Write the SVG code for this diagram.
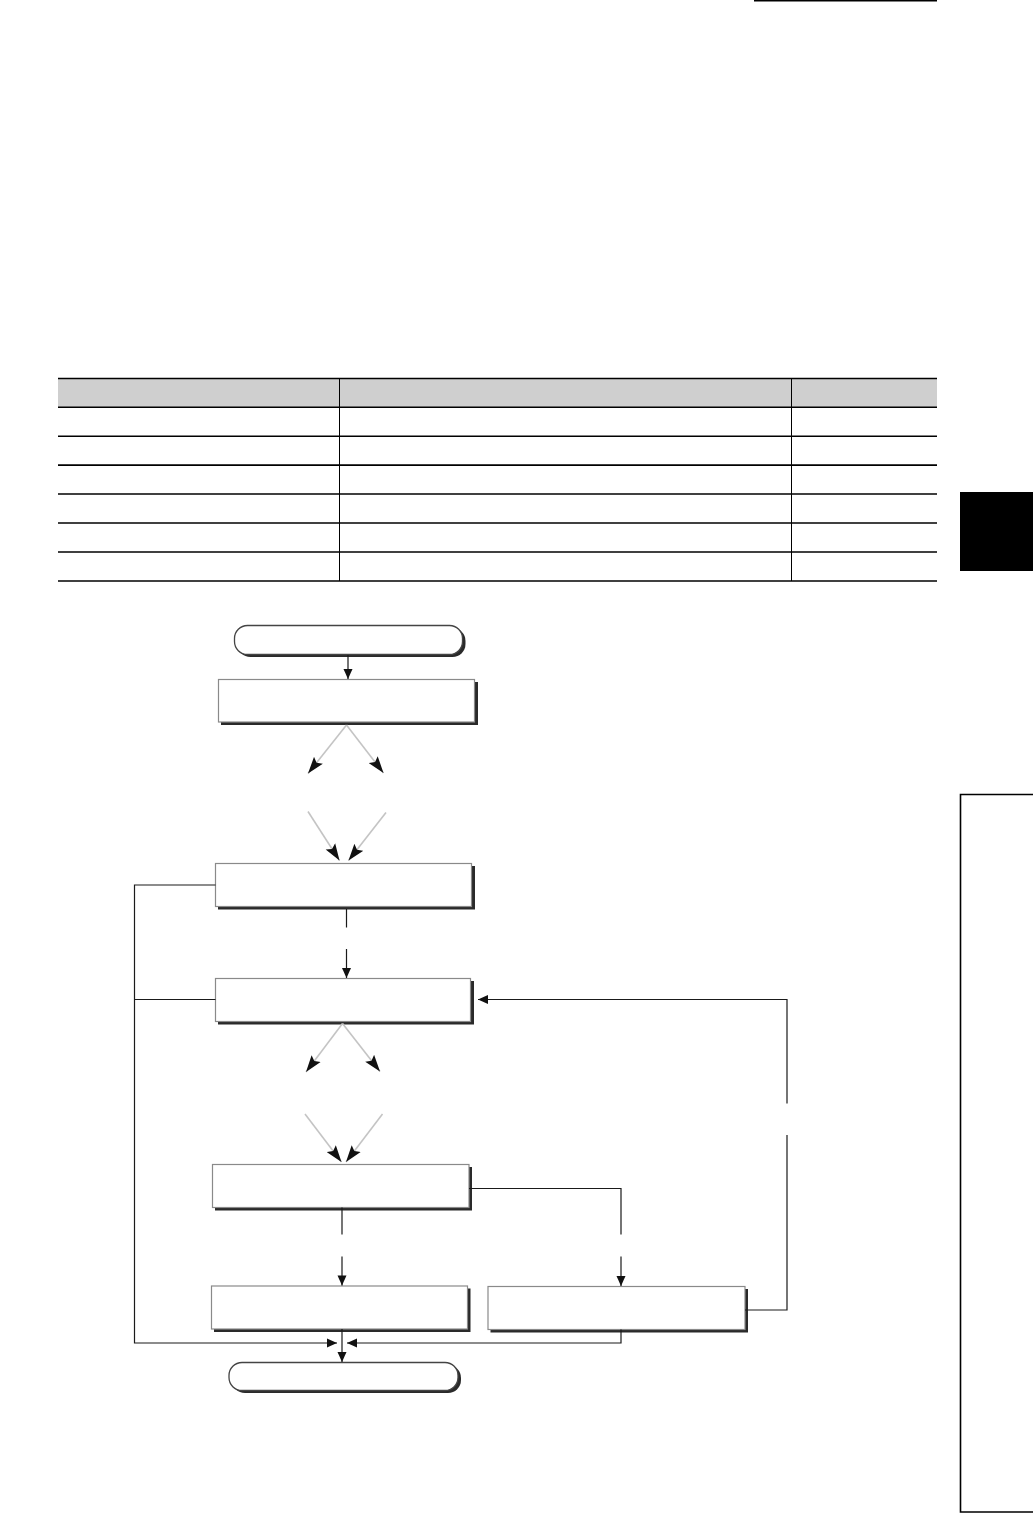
<svg xmlns="http://www.w3.org/2000/svg" width="1033" height="1515" viewBox="0 0 1033 1515">
<defs>
<style>
.rule{stroke:#000;stroke-width:1.6;fill:none}
.thin{stroke:#000;stroke-width:1;fill:none}
.box{fill:#fff;stroke:#8a8a8a;stroke-width:1.2}
.shadow{fill:#2a2a2a}
.term{fill:#fff;stroke:#444;stroke-width:1.3}
.ln{stroke:#1a1a1a;stroke-width:1.2;fill:none}
.gl{stroke:#c4c4c4;stroke-width:1.6;fill:none}
</style>
<marker id="ah" viewBox="0 0 10 10" refX="10" refY="5" markerWidth="11" markerHeight="10" markerUnits="userSpaceOnUse" orient="auto">
<path d="M0,0.5 L10,5 L0,9.5 Z" fill="#111"/>
</marker>
<marker id="ahb" viewBox="0 0 14 10" refX="14" refY="5" markerWidth="17" markerHeight="12" markerUnits="userSpaceOnUse" orient="auto">
<path d="M0,0.3 L14,5 L0,9.7 L2.5,5 Z" fill="#111"/>
</marker>
</defs>
<rect width="1033" height="1515" fill="#fff"/>

<g id="page">
<line x1="754" y1="0.8" x2="937" y2="0.8" class="rule"/>
<rect x="960" y="492" width="73" height="79" fill="#000"/>
<path d="M1033,794.5 H960.5 V1512 H1033" class="rule"/>
</g>

<g id="table">
<rect x="58" y="378" width="879" height="29" fill="#cfcfcf"/>
<g class="rule">
<line x1="58" y1="378.5" x2="937" y2="378.5"/>
<line x1="58" y1="407.3" x2="937" y2="407.3"/>
<line x1="58" y1="436.2" x2="937" y2="436.2"/>
<line x1="58" y1="465.1" x2="937" y2="465.1"/>
<line x1="58" y1="494" x2="937" y2="494"/>
<line x1="58" y1="523" x2="937" y2="523"/>
<line x1="58" y1="552" x2="937" y2="552"/>
<line x1="58" y1="581" x2="937" y2="581"/>
</g>
<g class="thin">
<line x1="339.5" y1="378" x2="339.5" y2="581"/>
<line x1="791.5" y1="378" x2="791.5" y2="581"/>
</g>
</g>

<g id="start">
<rect x="237.5" y="628" width="228" height="29" rx="13" class="shadow"/>
<rect x="234.5" y="625.5" width="228" height="29" rx="13" class="term"/>
</g>
<g id="box1">
<rect x="221" y="682" width="257" height="43" class="shadow"/>
<rect x="218.5" y="679.5" width="256" height="42.5" class="box"/>
</g>
<g id="box2">
<rect x="218" y="866" width="257" height="43.5" class="shadow"/>
<rect x="215.5" y="863.5" width="256" height="43" class="box"/>
</g>
<g id="box3">
<rect x="218" y="981" width="256" height="43.5" class="shadow"/>
<rect x="215.5" y="978.5" width="255" height="43" class="box"/>
</g>
<g id="box4">
<rect x="215" y="1167" width="257" height="43.5" class="shadow"/>
<rect x="212.5" y="1164.5" width="256.5" height="43" class="box"/>
</g>
<g id="box5">
<rect x="214" y="1288.5" width="256.5" height="43.5" class="shadow"/>
<rect x="211.5" y="1286" width="256" height="43" class="box"/>
</g>
<g id="box6">
<rect x="490.5" y="1289" width="257.5" height="43.5" class="shadow"/>
<rect x="488" y="1286.5" width="257" height="43" class="box"/>
</g>
<g id="end">
<rect x="232" y="1365" width="229" height="28" rx="13" class="shadow"/>
<rect x="229" y="1362.5" width="229" height="28" rx="13" class="term"/>
</g>

<g id="connectors">
<line x1="348" y1="655" x2="348" y2="679" class="ln" marker-end="url(#ah)"/>
<line x1="346.5" y1="725" x2="308" y2="773.5" class="gl" marker-end="url(#ahb)"/>
<line x1="346.5" y1="725" x2="383.5" y2="773" class="gl" marker-end="url(#ahb)"/>
<line x1="308" y1="811.5" x2="339.5" y2="860.5" class="gl" marker-end="url(#ahb)"/>
<line x1="386" y1="812.5" x2="348.5" y2="860.5" class="gl" marker-end="url(#ahb)"/>

<polyline points="215.5,885 134.5,885 134.5,1343 337,1343" class="ln" marker-end="url(#ah)"/>
<line x1="134.5" y1="999.5" x2="215.5" y2="999.5" class="ln"/>

<line x1="346.5" y1="909" x2="346.5" y2="927.5" class="ln"/>
<line x1="346.5" y1="949" x2="346.5" y2="978" class="ln" stroke-width="1.8" marker-end="url(#ah)"/>

<polyline points="745,1310 787,1310 787,1135" class="ln"/>
<polyline points="787,1103.5 787,999.5 478,999.5" class="ln" marker-end="url(#ah)"/>

<line x1="342.5" y1="1023.5" x2="306" y2="1072" class="gl" marker-end="url(#ahb)"/>
<line x1="342.5" y1="1023.5" x2="380" y2="1071.5" class="gl" marker-end="url(#ahb)"/>
<line x1="305" y1="1114" x2="341.5" y2="1162" class="gl" marker-end="url(#ahb)"/>
<line x1="382.5" y1="1114" x2="346" y2="1162" class="gl" marker-end="url(#ahb)"/>

<polyline points="469,1188.5 621,1188.5 621,1234.5" class="ln"/>
<line x1="621" y1="1256.5" x2="621" y2="1286" class="ln" stroke-width="1.6" marker-end="url(#ah)"/>
<line x1="342" y1="1207.5" x2="342" y2="1234.5" class="ln"/>
<line x1="342" y1="1256.5" x2="342" y2="1285.5" class="ln" stroke-width="1.8" marker-end="url(#ah)"/>

<polyline points="621,1329.5 621,1343 347,1343" class="ln" marker-end="url(#ah)"/>
<line x1="342" y1="1329" x2="342" y2="1362" class="ln" marker-end="url(#ah)"/>
</g>
</svg>
